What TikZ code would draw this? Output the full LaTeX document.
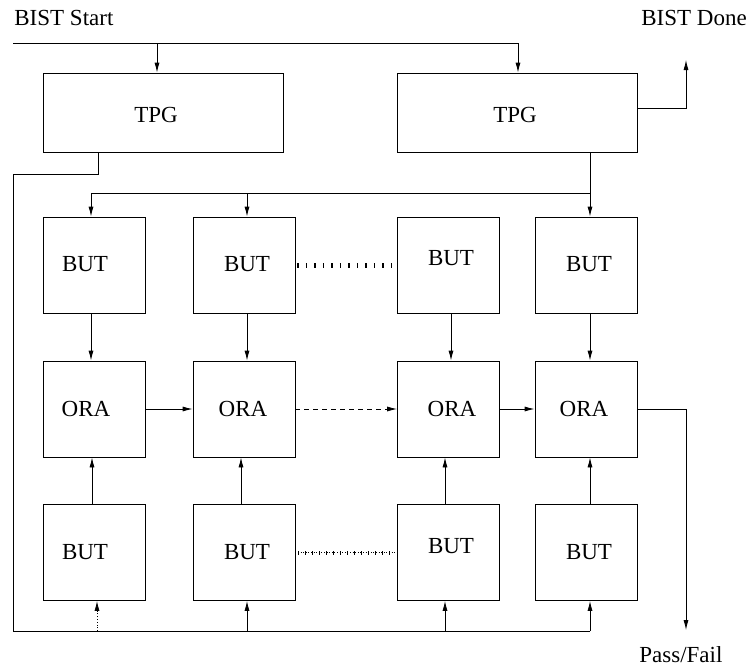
\documentclass[tikz,border=0pt]{standalone}
\usepackage{fontspec}
\setmainfont{Liberation Serif}
\usetikzlibrary{arrows.meta}
\begin{document}
\begin{tikzpicture}[x=1pt,y=-1pt, line width=0.8pt,
 box/.style={draw, inner sep=0pt, minimum width=102pt, minimum height=96pt},
 tpgbox/.style={draw, inner sep=0pt, minimum width=240pt, minimum height=79pt},
 lbl/.style={font=\fontsize{23}{27}\selectfont, inner sep=0pt, anchor=base},
 arr/.style={-{Latex[length=10pt,width=5pt]}},
 ticks/.style={line width=5pt, dash pattern=on 1.5pt off 7pt},
 fineticks/.style={line width=4pt, dash pattern=on 1pt off 6pt}]
\useasboundingbox (0,0) rectangle (748,667);
% boxes
\node[tpgbox] (tpg1) at (163,112.5) {};
\node[tpgbox] (tpg2) at (517,112.5) {};
\node[box] (b11) at (94,265) {};
\node[box] (b12) at (244,265) {};
\node[box] (b13) at (448.5,265) {};
\node[box] (b14) at (586,265) {};
\node[box] (o1) at (94,409) {};
\node[box] (o2) at (244,409) {};
\node[box] (o3) at (448.5,409) {};
\node[box] (o4) at (586,409) {};
\node[box] (b31) at (94,552.5) {};
\node[box] (b32) at (244,552.5) {};
\node[box] (b33) at (448.5,552.5) {};
\node[box] (b34) at (586,552.5) {};
% labels
\node[lbl] (t1) at (156,122) {TPG};
\node[lbl] (t2) at (515,122) {TPG};
\node[lbl] (l11) at (85,271) {BUT};
\node[lbl] (l12) at (247,271) {BUT};
\node[lbl] (l13) at (451,265) {BUT};
\node[lbl] (l14) at (589,271) {BUT};
\node[lbl] (m1) at (86,416) {ORA};
\node[lbl] (m2) at (243,416) {ORA};
\node[lbl] (m3) at (452,416) {ORA};
\node[lbl] (m4) at (584,416) {ORA};
\node[lbl] (l31) at (85,559) {BUT};
\node[lbl] (l32) at (247,559) {BUT};
\node[lbl] (l33) at (451,553) {BUT};
\node[lbl] (l34) at (589,559) {BUT};
\node[lbl, anchor=base west] (start) at (14,25) {BIST Start};
\node[lbl, anchor=base west] (done) at (641,25) {BIST Done};
\node[lbl, anchor=base west] (pf) at (639,662) {Pass/Fail};
% start distribution
\coordinate (s0) at (13,43);
\coordinate (s1) at (518,43);
\coordinate (i1) at ([xshift=-6pt]tpg1.north);
\coordinate (i2) at ([xshift=1pt]tpg2.north);
\draw (s0) -- (s1);
\draw[arr] (i1 |- s0) -- (i1);
\draw[arr] (s1) -- (i2);
% done
\coordinate (dn) at (686,60);
\draw[arr] ([yshift=4pt]tpg2.east) -| (dn);
% tpg2 to top BUTs
\coordinate (o2a) at ([xshift=73pt]tpg2.south);
\coordinate (br) at (590,193);
\coordinate (c11) at ([xshift=-3pt]b11.north);
\coordinate (c12) at ([xshift=3pt]b12.north);
\coordinate (c14) at ([xshift=4pt]b14.north);
\draw[arr] (o2a) -- (c14);
\draw (br) -- (c11 |- br);
\draw[arr] (c11 |- br) -- (c11);
\draw[arr] (c12 |- br) -- (c12);
% top BUTs to ORAs
\draw[arr] ([xshift=-3pt]b11.south) -- ([xshift=-3pt]o1.north);
\draw[arr] ([xshift=3pt]b12.south) -- ([xshift=3pt]o2.north);
\draw[arr] ([xshift=2.5pt]b13.south) -- ([xshift=2.5pt]o3.north);
\draw[arr] ([xshift=4pt]b14.south) -- ([xshift=4pt]o4.north);
% bottom BUTs to ORAs
\draw[arr] ([xshift=-2pt]b31.north) -- ([xshift=-2pt]o1.south);
\draw[arr] ([xshift=-3pt]b32.north) -- ([xshift=-3pt]o2.south);
\draw[arr] ([xshift=-3.5pt]b33.north) -- ([xshift=-3.5pt]o3.south);
\draw[arr] ([xshift=4pt]b34.north) -- ([xshift=4pt]o4.south);
% ORA chain
\draw[arr] (o1) -- (o2);
\draw[arr, dashed, dash pattern=on 5pt off 4pt] (o2) -- (o3);
\draw[arr] (o3) -- (o4);
\coordinate (pfa) at (686,630);
\draw[arr] (o4.east) -| (pfa);
% dotted links between BUTs
\draw[ticks] ([xshift=2pt]b12.east) -- ([xshift=-5pt]b13.west |- b12.east);
\draw[line width=0.6pt, dotted] (b32.east) -- (b33.west |- b32.east);
\draw[fineticks] ([xshift=3pt]b32.east) -- ([xshift=-1pt]b33.west |- b32.east);
% feedback from TPG1 to bottom BUTs
\coordinate (f0) at ([xshift=-65pt]tpg1.south);
\coordinate (L1) at (13,174);
\coordinate (L2) at (13,631);
\coordinate (d1) at ([xshift=3pt]b31.south);
\coordinate (d2) at ([xshift=3pt]b32.south);
\coordinate (d3) at ([xshift=-3.5pt]b33.south);
\coordinate (d4) at ([xshift=4pt]b34.south);
\draw (f0) |- (L1) -- (L2) -- (d4 |- L2);
\draw[arr, dotted] (d1 |- L2) -- (d1);
\draw[arr] (d2 |- L2) -- (d2);
\draw[arr] (d3 |- L2) -- (d3);
\draw[arr] (d4 |- L2) -- (d4);
\end{tikzpicture}
\end{document}
